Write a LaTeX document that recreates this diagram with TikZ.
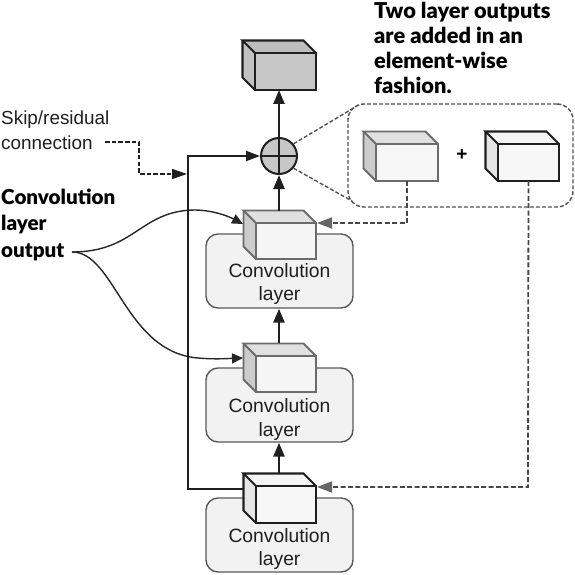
\documentclass[tikz,border=0pt]{standalone}
\usepackage{fontspec}
\setmainfont{Liberation Sans}
\newfontfamily\boldlbl{Lato Black}
\usetikzlibrary{arrows.meta,calc}
\tikzset{
  cubeface/.style={rectangle,inner sep=0pt,outer sep=0pt,line join=miter},
  conn/.style={line width=2.5pt,draw=black!88,-{Triangle[length=14pt,width=11pt]}},
  skipconn/.style={line width=2pt,draw=black!88,-{Triangle[length=14pt,width=10pt]}},
  curveconn/.style={line width=1.4pt,draw=black!85,-{Triangle[length=11pt,width=10pt]}},
  dashconn/.style={line width=1.8pt,draw=black!72,dash pattern=on 5pt off 2.4pt},
  greytip/.style={-{Triangle[length=15pt,width=11pt,fill=black!60,color=black!60]}},
  blacktip/.style={-{Triangle[length=15pt,width=10pt]}},
  calloutline/.style={line width=1.4pt,draw=black!68,dash pattern=on 4pt off 2pt},
  layerbox/.style={rectangle,rounded corners=12pt,draw=black!65,line width=1.4pt,fill=black!5,minimum width=147pt,minimum height=74pt,inner sep=0pt},
  layertext/.style={font=\fontsize{19.3}{23.5}\selectfont,align=center,text=black!88},
  boldtext/.style={font=\boldlbl\fontsize{20.6}{26.5}\selectfont,align=left,anchor=north west,inner sep=0pt},
  boldtextb/.style={font=\boldlbl\fontsize{21.8}{25.3}\selectfont,align=left,anchor=north west,inner sep=0pt},
  thintext/.style={font=\fontsize{18.9}{25}\selectfont,align=left,anchor=north west,inner sep=0pt,text=black!88},
}
% name, front x0,y0,x1,y1, line colour, line width, side/top fills
\newcommand{\mycube}[9]{%
  \fill[#9] (#2-12.5,#3-12.5) -- (#4-12.5,#3-12.5) -- (#4,#3) -- (#2,#3) -- cycle;
  \fill[#8] (#2-12.5,#3-12.5) -- (#2,#3) -- (#2,#5) -- (#2-12.5,#5-12.5) -- cycle;
  \node[cubeface,draw=#6,line width=#7,minimum width=#4pt-#2pt,minimum height=#5pt-#3pt] (#1) at ({(#2+#4)/2},{(#3+#5)/2}) {};
  \draw[#6,line width=#7,line join=miter] (#2,#3) -- (#2-12.5,#3-12.5) -- (#4-12.5,#3-12.5) -- (#4,#3)
     (#2-12.5,#3-12.5) -- (#2-12.5,#5-12.5) -- (#2,#5);
}
\begin{document}
\begin{tikzpicture}[x=1pt,y=-1pt]
\useasboundingbox (0,0) rectangle (575,575);
% layer boxes
\node[layerbox] (L1) at (279.5,271) {};
\node[layerbox] (L2) at (279.5,405) {};
\node[layerbox] (L3) at (279.5,535) {};
\node[layertext] (T1) at (279.5,284) {Convolution\\layer};
\node[layertext] (T2) at (279.5,419.5) {Convolution\\layer};
\node[layertext] (T3) at (279.5,549) {Convolution\\layer};
% cubes
\fill[black!22] (255,53) rectangle (316,90);
\mycube{top}{255}{53}{316}{90}{black!88}{2.1pt}{black!24}{black!26}
\fill[black!4] (256,223) rectangle (316,259);
\mycube{c1}{256}{223}{316}{259}{black!58}{1.9pt}{black!20}{black!12}
\fill[black!4] (256,356) rectangle (316,392);
\mycube{c2}{256}{356}{316}{392}{black!58}{1.9pt}{black!20}{black!12}
\fill[black!3] (256,486) rectangle (316,523);
\mycube{c3}{256}{486}{316}{523}{black!88}{2.1pt}{black!10}{black!4}
% callout
\node[rectangle,rounded corners=16pt,calloutline,minimum width=225pt,minimum height=103pt] (box) at (460.5,155.5) {};
\coordinate (boxtl) at (357,106);
\coordinate (boxbl) at (352,201);
\fill[black!3] (376,144) rectangle (438,181);
\mycube{a1}{376}{144}{438}{181}{black!58}{1.9pt}{black!20}{black!12}
\fill[black!3] (498,144) rectangle (559,181);
\mycube{a2}{498}{144}{559}{181}{black!88}{2.1pt}{black!10}{black!4}
\node[font=\fontsize{19}{19}\selectfont\bfseries] (plus) at (462,155) {+};
% adder
\node[circle,draw=black!88,line width=2pt,fill=black!22,minimum size=36pt,inner sep=0pt] (add) at (279,156) {};
\draw[line width=1.5pt,black!88] (add.north) -- (add.south) (add.west) -- (add.east);
\draw[calloutline] (add.40) -- (boxtl);
\draw[calloutline] (add.-40) -- (boxbl);
% main connectors
\coordinate (c1top) at (279,211);
\coordinate (c2top) at (279,343);
\coordinate (c3top) at (279,473);
\draw[conn] (add.north) -- (top.south -| add.north);
\draw[conn] (c1top) -- (add.south);
\draw[conn] (c2top) -- (L1.south -| c2top);
\draw[conn] (c3top) -- (L2.south -| c3top);
% skip
\coordinate (skipa) at (188,489);
\coordinate (skipb) at (188,156);
\draw[skipconn] (243,489) -- (skipa) -- (skipb) -- (add.west);
% dashed returns
\coordinate (d1) at (407,223);
\coordinate (d2) at (528,487);
\draw[dashconn,greytip] (a1.south) -- (d1) -- (317,223);
\draw[dashconn,greytip] (a2.south) -- (d2) -- (317,487);
% curves
\coordinate (src) at (72,252);
\draw[curveconn] (src) .. controls (135,252) and (140,211) .. (194,210) .. controls (212,210) and (228,216) .. (243,224);
\draw[curveconn] (src) .. controls (115,252) and (125,352) .. (198,358) .. controls (215,359.5) and (228,358.5) .. (243,358);
% labels
\node[thintext] (skip) at (1,110.5) {Skip/residual\\connection};
\coordinate (s1) at (139,142);
\coordinate (s2) at (139,174);
\draw[line width=1.5pt,draw=black!88,dash pattern=on 4.5pt off 2.2pt,blacktip] (105,142) -- (s1) -- (s2) -- (187,174);
\node[boldtext] (cl) at (1,188.5) {Convolution\\layer\\output};
\node[boldtextb] (two) at (374,1.5) {Two layer outputs\\are added in an\\element-wise\\fashion.};
\end{tikzpicture}
\end{document}
